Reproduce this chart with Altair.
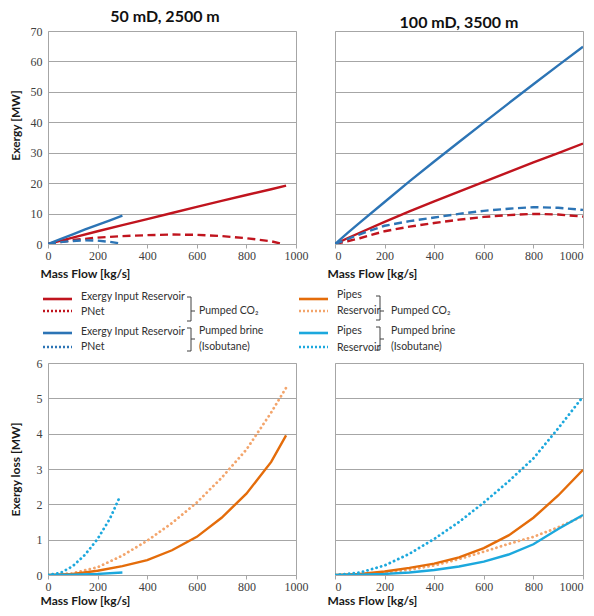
import altair as alt
import pandas as pd

# ---------------- data ----------------
# Top-left panel: 50 mD, 2500 m  (Exergy [MW])
TL_CO2_FLOW = [0, 100, 200, 300, 400, 500, 600, 700, 800, 900, 960]
TL_CO2_INPUT = [0, 2.1, 4.2, 6.2, 8.2, 10.2, 12.2, 14.2, 16.1, 18.0, 19.2]
TL_CO2_PNET_FLOW = [0, 100, 200, 300, 400, 500, 600, 700, 800, 900, 940]
TL_CO2_PNET = [0, 1.3, 2.1, 2.6, 2.9, 3.1, 3.0, 2.6, 1.9, 0.9, 0.1]
TL_BRINE_FLOW = [0, 50, 100, 150, 200, 250, 300]
TL_BRINE_INPUT = [0, 1.6, 3.2, 4.8, 6.3, 7.8, 9.3]
TL_BRINE_PNET = [0, 0.6, 1.0, 1.2, 1.1, 0.7, 0.1]

# Top-right panel: 100 mD, 3500 m  (Exergy [MW])
TR_FLOW = [0, 50, 100, 200, 300, 400, 500, 600, 700, 800, 900, 1000]
TR_CO2_INPUT = [0, 1.9, 3.7, 7.3, 10.7, 14.0, 17.2, 20.4, 23.6, 26.8, 29.9, 33.0]
TR_CO2_PNET = [0, 0.9, 1.9, 4.2, 5.7, 6.9, 8.0, 8.9, 9.5, 9.9, 9.7, 9.0]
TR_BRINE_INPUT = [0, 3.6, 7.0, 13.8, 20.6, 27.1, 33.5, 39.9, 46.2, 52.5, 58.7, 64.8]
TR_BRINE_PNET = [0, 1.6, 3.2, 6.0, 7.5, 8.7, 9.9, 10.9, 11.6, 12.1, 11.9, 11.2]

# Bottom-left panel (Exergy loss [MW])
BL_CO2_FLOW = [0, 100, 200, 300, 400, 500, 600, 700, 800, 900, 960]
BL_CO2_PIPES = [0, 0.03, 0.12, 0.25, 0.42, 0.70, 1.08, 1.62, 2.30, 3.20, 3.95]
BL_CO2_RES = [0, 0.05, 0.22, 0.55, 0.97, 1.47, 2.05, 2.75, 3.55, 4.60, 5.30]
BL_BRINE_PIPES_FLOW = [0, 100, 200, 300]
BL_BRINE_PIPES = [0, 0.01, 0.03, 0.07]
BL_BRINE_RES_FLOW = [0, 50, 100, 150, 200, 250, 290]
BL_BRINE_RES = [0, 0.06, 0.25, 0.58, 1.02, 1.60, 2.22]

# Bottom-right panel (Exergy loss [MW])
BR_FLOW = [0, 100, 200, 300, 400, 500, 600, 700, 800, 900, 1000]
BR_CO2_PIPES = [0, 0.03, 0.10, 0.20, 0.32, 0.50, 0.76, 1.12, 1.62, 2.25, 2.98]
BR_CO2_RES = [0, 0.02, 0.07, 0.15, 0.27, 0.45, 0.66, 0.88, 1.08, 1.35, 1.67]
BR_BRINE_PIPES = [0, 0.01, 0.03, 0.07, 0.14, 0.24, 0.38, 0.58, 0.87, 1.30, 1.70]
BR_BRINE_RES = [0, 0.07, 0.27, 0.60, 1.02, 1.50, 2.05, 2.65, 3.30, 4.15, 5.05]

X_TICKS = [0, 200, 400, 600, 800, 1000]
Y_TICKS_TOP = [0, 10, 20, 30, 40, 50, 60, 70]
Y_TICKS_BOTTOM = [0, 1, 2, 3, 4, 5, 6]

PANEL_TITLES = ["50 mD, 2500 m", "100 mD, 3500 m"]

LEGEND_LEFT_LABELS = ["Exergy Input Reservoir", "PNet", "Exergy Input Reservoir", "PNet"]
LEGEND_RIGHT_LABELS = ["Pipes", "Reservoir", "Pipes", "Reservoir"]
GROUP_LABELS = ["Pumped CO\u2082", "Pumped brine", "(Isobutane)"]

# ---------------- styles ----------------
RED = "#C0141E"
BLUE = "#2C74B5"
ORANGE = "#E46C0A"
ORANGE_LIGHT = "#F3A56C"
LBLUE = "#1CA8DD"
GRID = "#A6A6A6"
TEXT = "#303030"

W = 248


def panel(series, ydomain, yticks, ytitle, show_y, height, title=None, title_y=None,
          xtitle_pad=3, title_dx=0):
    x_axis = alt.Axis(values=X_TICKS, format="d", grid=False, domainColor=GRID, tickColor=GRID,
                      tickSize=4, labelPadding=2, labelFlush=not show_y,
                      title="Mass Flow [kg/s]",
                      titleAnchor="start", titleAlign="left", titleX=-8, titlePadding=xtitle_pad)
    if show_y:
        ykw = dict(values=yticks, title=ytitle, grid=True, gridColor=GRID, domain=False,
                   ticks=False, labelPadding=6, minExtent=20, maxExtent=20, titlePadding=6)
        if title_y is not None:
            ykw["titleY"] = title_y
        y_axis = alt.Axis(**ykw)
    else:
        y_axis = alt.Axis(values=yticks, title=None, grid=True, gridColor=GRID, domain=False,
                          ticks=False, labels=False, minExtent=0, maxExtent=0)
    X = alt.X("flow:Q", scale=alt.Scale(domain=[0, 1000], nice=False, zero=False), axis=x_axis)
    Y = alt.Y("value:Q", scale=alt.Scale(domain=ydomain, nice=False, zero=False), axis=y_axis)
    layers = []
    for flows, vals, color, style in series:
        df = pd.DataFrame({"flow": flows, "value": vals})
        kw = dict(color=color, strokeWidth=2.4, clip=True)
        if style == "dash":
            kw.update(strokeDash=[8, 4.5])
        elif style == "dot":
            kw.update(strokeDash=[0.1, 4.6], strokeCap="round", strokeWidth=2.8)
        layers.append(alt.Chart(df).mark_line(**kw).encode(x=X, y=Y))
    props = dict(width=W, height=height,
                 view=alt.ViewBackground(stroke=GRID, strokeWidth=1))
    if title is not None:
        props["title"] = alt.TitleParams(text=title, fontSize=16, font="Lato",
                                         fontWeight="bold", offset=0, dx=title_dx,
                                         color="#111111")
    return alt.layer(*layers).properties(**props)


tl = panel([
    (TL_CO2_FLOW, TL_CO2_INPUT, RED, "solid"),
    (TL_CO2_PNET_FLOW, TL_CO2_PNET, RED, "dash"),
    (TL_BRINE_FLOW, TL_BRINE_INPUT, BLUE, "solid"),
    (TL_BRINE_FLOW, TL_BRINE_PNET, BLUE, "dash"),
], [0, 70], Y_TICKS_TOP, "Exergy [MW]", True, 213, PANEL_TITLES[0],
    title_y=94, xtitle_pad=7, title_dx=-7)

tr = panel([
    (TR_FLOW, TR_CO2_INPUT, RED, "solid"),
    (TR_FLOW, TR_CO2_PNET, RED, "dash"),
    (TR_FLOW, TR_BRINE_INPUT, BLUE, "solid"),
    (TR_FLOW, TR_BRINE_PNET, BLUE, "dash"),
], [0, 70], Y_TICKS_TOP, None, False, 213, PANEL_TITLES[1], xtitle_pad=7)

bl = panel([
    (BL_CO2_FLOW, BL_CO2_RES, ORANGE_LIGHT, "dot"),
    (BL_CO2_FLOW, BL_CO2_PIPES, ORANGE, "solid"),
    (BL_BRINE_RES_FLOW, BL_BRINE_RES, LBLUE, "dot"),
    (BL_BRINE_PIPES_FLOW, BL_BRINE_PIPES, LBLUE, "solid"),
], [0, 6], Y_TICKS_BOTTOM, "Exergy loss [MW]", True, 212)

br = panel([
    (BR_FLOW, BR_CO2_RES, ORANGE_LIGHT, "dot"),
    (BR_FLOW, BR_CO2_PIPES, ORANGE, "solid"),
    (BR_FLOW, BR_BRINE_RES, LBLUE, "dot"),
    (BR_FLOW, BR_BRINE_PIPES, LBLUE, "solid"),
], [0, 6], Y_TICKS_BOTTOM, None, False, 212)

# ---------------- custom legend, two halves (page-pixel coordinates) ----------------
LY0, LY1 = 245, 364    # between top plot bottom and bottom plot top
row_y = [300, 312, 334, 348]


def legend_half(x0, x1, sample_x, styles, labels, label_x, label_ys, group_x, bracket_x, brk):
    samples = pd.DataFrame([dict(x=sample_x, x2=sample_x + 29, y=row_y[i], color=c, style=st)
                            for i, (c, st) in enumerate(styles)])
    trows = [dict(x=label_x, y=y, text=lbl) for lbl, y in zip(labels, label_ys)]
    trows += [dict(x=group_x, y=312, text=GROUP_LABELS[0]),
              dict(x=group_x, y=332, text=GROUP_LABELS[1]),
              dict(x=group_x, y=348, text=GROUP_LABELS[2])]
    texts = pd.DataFrame(trows)
    rows = []
    for (top, bot, mid) in brk:
        rows.append(dict(x=bracket_x, x2=bracket_x, y=top, y2=bot))
        rows.append(dict(x=bracket_x - 4, x2=bracket_x, y=top, y2=top))
        rows.append(dict(x=bracket_x - 4, x2=bracket_x, y=bot, y2=bot))
        rows.append(dict(x=bracket_x, x2=bracket_x + 4, y=mid, y2=mid))
    brackets = pd.DataFrame(rows)
    xs = alt.Scale(domain=[x0, x1], nice=False, zero=False)
    ys = alt.Scale(domain=[LY0, LY1], nice=False, zero=False, reverse=True)
    solid = alt.Chart(samples).transform_filter(alt.datum.style == "solid").mark_rule(
        strokeWidth=2.6).encode(
        x=alt.X("x:Q", scale=xs, axis=None), x2="x2:Q",
        y=alt.Y("y:Q", scale=ys, axis=None), color=alt.Color("color:N", scale=None))
    dot = alt.Chart(samples).transform_filter(alt.datum.style == "dot").mark_rule(
        strokeWidth=2.4, strokeDash=[2, 2]).encode(
        x=alt.X("x:Q", scale=xs, axis=None), x2="x2:Q",
        y=alt.Y("y:Q", scale=ys, axis=None), color=alt.Color("color:N", scale=None))
    brk_layer = alt.Chart(brackets).mark_rule(strokeWidth=1, color="#404040").encode(
        x=alt.X("x:Q", scale=xs, axis=None), x2="x2:Q",
        y=alt.Y("y:Q", scale=ys, axis=None), y2="y2:Q")
    txt = alt.Chart(texts).mark_text(align="left", baseline="middle", font="Lato",
                                     fontSize=10.5, color=TEXT).encode(
        x=alt.X("x:Q", scale=xs, axis=None),
        y=alt.Y("y:Q", scale=ys, axis=None), text="text:N")
    return alt.layer(solid, dot, brk_layer, txt).properties(
        width=x1 - x0, height=LY1 - LY0,
        view=alt.ViewBackground(stroke="transparent", strokeWidth=0))


leg_left = legend_half(
    48, 48 + W, 43,
    [(RED, "solid"), (RED, "dot"), (BLUE, "solid"), (BLUE, "dot")],
    LEGEND_LEFT_LABELS, 81, [298, 313, 333, 348], 199, 191,
    [(298, 322, 312), (329, 352, 340)])
leg_right = legend_half(
    335, 335 + W, 299,
    [(ORANGE, "solid"), (ORANGE_LIGHT, "dot"), (LBLUE, "solid"), (LBLUE, "dot")],
    LEGEND_RIGHT_LABELS, 337, [296, 312, 332, 349], 391, 380,
    [(297, 321, 312), (328, 351, 340)])

chart = alt.concat(
    tl, tr, leg_left, leg_right, bl, br,
    columns=2, spacing={"row": 0, "column": 39}, bounds="flush"
).properties(
    padding=0
).configure_axis(
    labelFont="Liberation Serif", labelFontSize=12, labelColor="#404040",
    titleFont="Lato", titleFontSize=12, titleFontWeight="bold", titleColor="#1a1a1a"
).configure_view(stroke=GRID)

chart.save("out.html", embed_options={"renderer": "svg", "actions": False})
